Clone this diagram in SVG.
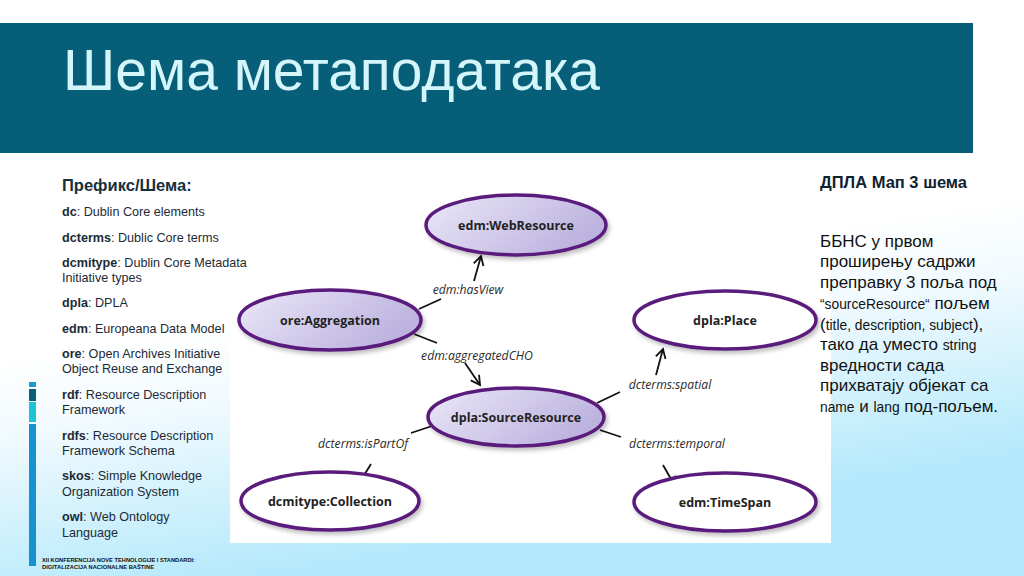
<svg xmlns="http://www.w3.org/2000/svg" width="1024" height="576" viewBox="0 0 1024 576">
<defs>
<linearGradient id="bg" gradientUnits="userSpaceOnUse" x1="0" y1="360" x2="40" y2="610">
<stop offset="0" stop-color="#ffffff"/>
<stop offset="0.3" stop-color="#f1fafe"/>
<stop offset="1" stop-color="#b4e9fb"/>
</linearGradient>
<linearGradient id="lav" x1="0" y1="0" x2="1" y2="0.4">
<stop offset="0" stop-color="#ebe8f9"/>
<stop offset="1" stop-color="#bdb3df"/>
</linearGradient>
<filter id="sh" x="-10%" y="-20%" width="125%" height="150%">
<feDropShadow dx="2" dy="3" stdDeviation="2" flood-color="#000" flood-opacity="0.25"/>
</filter>
<marker id="arr" markerUnits="userSpaceOnUse" markerWidth="13" markerHeight="13" refX="10" refY="6" orient="auto">
<path d="M1,1 L10,6 L1,11" fill="none" stroke="#111" stroke-width="1.8"/>
</marker>
<style>
.node ellipse{stroke:#5a1c7c;stroke-width:3.5;filter:url(#sh)}
.lav{fill:url(#lav)}
.wht{fill:#ffffff}
.nt{font-family:"Open Sans","DejaVu Sans",sans-serif;font-weight:bold;font-size:12.5px;fill:#222;text-anchor:middle}
.el{font-family:"Open Sans","DejaVu Sans",sans-serif;font-style:italic;font-size:12.2px;fill:#2a2a2a;text-anchor:middle}
.ln{stroke:#111;stroke-width:1.8;fill:none}
.lt{font-family:"Liberation Sans",Arial,sans-serif;font-size:12.6px;fill:#1c2a36}
.rt{font-family:"Liberation Sans",Arial,sans-serif;font-size:17px;fill:#111}
.sm{font-size:13.8px}
</style>
</defs>
<rect width="1024" height="576" fill="url(#bg)"/>
<g id="titlebar">
<rect x="0" y="23" width="973" height="130" fill="#075e78"/>
<text x="63" y="90" font-family="Liberation Sans,Arial,sans-serif" font-size="57" fill="#d4f5fa">Шема метаподатака</text>
</g>
<g id="sidebar">
<rect x="29" y="382" width="7" height="5" fill="#1b9bd2"/>
<rect x="29" y="389" width="7" height="12" fill="#0b5f78"/>
<rect x="29" y="402" width="7" height="20" fill="#1fc3d6"/>
<rect x="29" y="424" width="7" height="142" fill="#1592cf"/>
</g>
<rect id="canvas" x="230" y="190" width="601" height="353" fill="#ffffff"/>
<g id="legend" class="lt">
<text x="62" y="191" font-weight="bold" font-size="16.5" fill="#17303c">Префикс/Шема:</text>
<text x="62" y="216"><tspan font-weight="bold">dc</tspan>: Dublin Core elements</text>
<text x="62" y="242"><tspan font-weight="bold">dcterms</tspan>: Dublic Core terms</text>
<text x="62" y="267"><tspan font-weight="bold">dcmitype</tspan>: Dublin Core Metadata</text>
<text x="62" y="282">Initiative types</text>
<text x="62" y="307"><tspan font-weight="bold">dpla</tspan>: DPLA</text>
<text x="62" y="333"><tspan font-weight="bold">edm</tspan>: Europeana Data Model</text>
<text x="62" y="358"><tspan font-weight="bold">ore</tspan>: Open Archives Initiative</text>
<text x="62" y="373">Object Reuse and Exchange</text>
<text x="62" y="399"><tspan font-weight="bold">rdf</tspan>: Resource Description</text>
<text x="62" y="414">Framework</text>
<text x="62" y="440"><tspan font-weight="bold">rdfs</tspan>: Resource Description</text>
<text x="62" y="455">Framework Schema</text>
<text x="62" y="480"><tspan font-weight="bold">skos</tspan>: Simple Knowledge</text>
<text x="62" y="496">Organization System</text>
<text x="62" y="521"><tspan font-weight="bold">owl</tspan>: Web Ontology</text>
<text x="62" y="537">Language</text>
</g>
<g id="footer" font-family="Liberation Sans,Arial,sans-serif" font-weight="bold" font-size="5.2" fill="#111">
<text x="42" y="562" textLength="153" lengthAdjust="spacingAndGlyphs">XII KONFERENCIJA NOVE TEHNOLOGIJE I STANDARDI:</text>
<text x="42" y="569" textLength="112" lengthAdjust="spacingAndGlyphs">DIGITALIZACIJA NACIONALNE BAŠTINE</text>
</g>
<g id="connectors">
<line class="ln" x1="419" y1="309" x2="441" y2="299"/>
<line class="ln" x1="474" y1="281" x2="481" y2="256" marker-end="url(#arr)"/>
<line class="ln" x1="414" y1="334" x2="437" y2="343"/>
<line class="ln" x1="465" y1="363" x2="480" y2="385" marker-end="url(#arr)"/>
<line class="ln" x1="597" y1="403" x2="620" y2="392"/>
<line class="ln" x1="656" y1="375" x2="663" y2="349" marker-end="url(#arr)"/>
<line class="ln" x1="432" y1="426" x2="411" y2="433"/>
<line class="ln" x1="371" y1="464" x2="358" y2="485" marker-end="url(#arr)"/>
<line class="ln" x1="600" y1="430" x2="621" y2="437"/>
<line class="ln" x1="663" y1="465" x2="675" y2="486" marker-end="url(#arr)"/>
<text class="el" x="468" y="294">edm:hasView</text>
<text class="el" x="477" y="360">edm:aggregatedCHO</text>
<text class="el" x="670" y="389">dcterms:spatial</text>
<text class="el" x="363" y="448">dcterms:isPartOf</text>
<text class="el" x="677" y="448">dcterms:temporal</text>
</g>
<g id="n-webresource" class="node"><ellipse class="lav" cx="516" cy="225" rx="90" ry="30"/><text class="nt" x="516" y="230">edm:WebResource</text></g>
<g id="n-aggregation" class="node"><ellipse class="lav" cx="330" cy="320" rx="91" ry="30"/><text class="nt" x="330" y="325">ore:Aggregation</text></g>
<g id="n-place" class="node"><ellipse class="wht" cx="725" cy="320" rx="91" ry="29"/><text class="nt" x="725" y="325">dpla:Place</text></g>
<g id="n-sourceresource" class="node"><ellipse class="lav" cx="516" cy="417" rx="88" ry="29"/><text class="nt" x="516" y="422">dpla:SourceResource</text></g>
<g id="n-collection" class="node"><ellipse class="wht" cx="330" cy="501" rx="89" ry="29"/><text class="nt" x="330" y="506">dcmitype:Collection</text></g>
<g id="n-timespan" class="node"><ellipse class="wht" cx="725" cy="502" rx="91" ry="29"/><text class="nt" x="725" y="507">edm:TimeSpan</text></g>
<g id="notes" class="rt">
<text x="820" y="188" font-weight="bold" font-size="16.5" fill="#10222c">ДПЛА Мап 3 шема</text>
<text x="820" y="247">ББНС у првом</text>
<text x="820" y="267">проширењу садржи</text>
<text x="820" y="288">преправку 3 поља под</text>
<text x="820" y="309"><tspan class="sm">“sourceResource“</tspan> пољем</text>
<text x="820" y="330">(<tspan class="sm">title, description, subject</tspan>),</text>
<text x="820" y="350">тако да уместо <tspan class="sm">string</tspan></text>
<text x="820" y="371">вредности сада</text>
<text x="820" y="391">прихватају објекат са</text>
<text x="820" y="412"><tspan class="sm">name</tspan> и <tspan class="sm">lang</tspan> под-пољем.</text>
</g>
</svg>
